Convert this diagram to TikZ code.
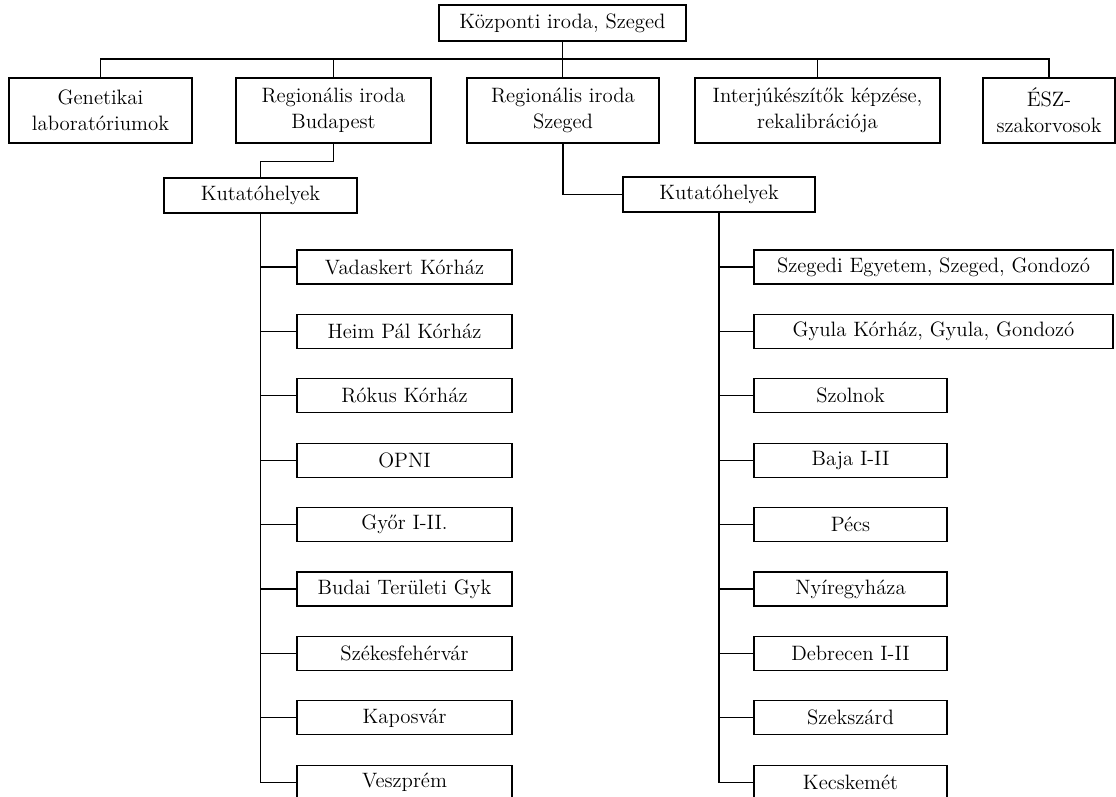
\documentclass[tikz,border=0pt]{standalone}
\usepackage{fontspec}
\usepackage{tikz}
\usetikzlibrary{calc}

\begin{document}
\begin{tikzpicture}[x=0.025cm, y=-0.025cm, line width=0.9pt,
    box/.style={draw, rectangle, inner sep=0pt, align=center,
      font=\fontsize{14.8}{18.5}\selectfont},
    unit/.style={box, minimum height=1.625cm},
    site/.style={box, minimum height=0.85cm}]
  \useasboundingbox (0, 0) rectangle (1116, 796);
  \clip (0, 0) rectangle (1116, 796);
  \def\leftx{404.5}
  \def\rightx{850.5}
  % top level
  \node[box, minimum width=6.175cm, minimum height=0.9cm] (kozp) at (562.5, 23) {Központi iroda, Szeged};
  \node[unit, minimum width=4.575cm] (gen) at (100.5, 110.5) {Genetikai\\laboratóriumok};
  \node[unit, minimum width=4.875cm] (budr) at (333.5, 110.5) {Regionális iroda\\Budapest};
  \node[unit, minimum width=4.8cm] (szer) at (563, 110.5) {Regionális iroda\\Szeged};
  \node[unit, minimum width=6.125cm] (interj) at (817.5, 110.5) {Interjúkészítők képzése,\\rekalibrációja};
  \node[unit, minimum width=3.3cm] (esz) at (1049, 110.5) {ÉSZ-\\szakorvosok};
  \coordinate (bus) at (0, 59);
  \draw (kozp.south) -- (kozp.south |- szer.north);
  \draw (gen.north) |- (bus -| esz.north) -- (esz.north);
  \draw (budr.north) -- (budr.north |- bus);
  \draw (interj.north) -- (interj.north |- bus);
  % research sites
  \node[site, minimum width=4.825cm, minimum height=0.875cm] (kutb) at (260.5, 195.5) {Kutatóhelyek};
  \node[site, minimum width=4.8cm, minimum height=0.875cm] (kuts) at (719, 194.5) {Kutatóhelyek};
  \draw (budr.south) -- ++(0, 18) -| (kutb.north);
  \draw (szer.south) |- (kuts.west);
  % Budapest
  \node[site, minimum width=5.375cm] (b1) at (\leftx, 267) {Vadaskert Kórház};
  \node[site, minimum width=5.375cm] (b2) at (\leftx, 331.4) {Heim Pál Kórház};
  \node[site, minimum width=5.375cm] (b3) at (\leftx, 395.8) {Rókus Kórház};
  \node[site, minimum width=5.375cm] (b4) at (\leftx, 460.2) {OPNI};
  \node[site, minimum width=5.375cm] (b5) at (\leftx, 524.6) {Győr I-II.};
  \node[site, minimum width=5.375cm] (b6) at (\leftx, 589) {Budai Területi Gyk};
  \node[site, minimum width=5.375cm] (b7) at (\leftx, 653.4) {Székesfehérvár};
  \node[site, minimum width=5.375cm] (b8) at (\leftx, 717.8) {Kaposvár};
  \node[site, minimum width=5.375cm] (b9) at (\leftx, 782.2) {Veszprém};
  \draw (kutb.south) |- (b9.west);
  \draw (b1.west) -- (b1.west -| kutb.south);
  \draw (b2.west) -- (b2.west -| kutb.south);
  \draw (b3.west) -- (b3.west -| kutb.south);
  \draw (b4.west) -- (b4.west -| kutb.south);
  \draw (b5.west) -- (b5.west -| kutb.south);
  \draw (b6.west) -- (b6.west -| kutb.south);
  \draw (b7.west) -- (b7.west -| kutb.south);
  \draw (b8.west) -- (b8.west -| kutb.south);
  % Szeged
  \node[site, minimum width=8.975cm] (s1) at (933.5, 267) {Szegedi Egyetem, Szeged, Gondozó};
  \node[site, minimum width=8.975cm] (s2) at (933.5, 331.4) {Gyula Kórház, Gyula, Gondozó};
  \node[site, minimum width=4.825cm] (s3) at (\rightx, 395.8) {Szolnok};
  \node[site, minimum width=4.825cm] (s4) at (\rightx, 460.2) {Baja I-II};
  \node[site, minimum width=4.825cm] (s5) at (\rightx, 524.6) {Pécs};
  \node[site, minimum width=4.825cm] (s6) at (\rightx, 589) {Nyíregyháza};
  \node[site, minimum width=4.825cm] (s7) at (\rightx, 653.4) {Debrecen I-II};
  \node[site, minimum width=4.825cm] (s8) at (\rightx, 717.8) {Szekszárd};
  \node[site, minimum width=4.825cm] (s9) at (\rightx, 782.2) {Kecskemét};
  \draw (kuts.south) |- (s9.west);
  \draw (s1.west) -- (s1.west -| kuts.south);
  \draw (s2.west) -- (s2.west -| kuts.south);
  \draw (s3.west) -- (s3.west -| kuts.south);
  \draw (s4.west) -- (s4.west -| kuts.south);
  \draw (s5.west) -- (s5.west -| kuts.south);
  \draw (s6.west) -- (s6.west -| kuts.south);
  \draw (s7.west) -- (s7.west -| kuts.south);
  \draw (s8.west) -- (s8.west -| kuts.south);
\end{tikzpicture}
\end{document}
